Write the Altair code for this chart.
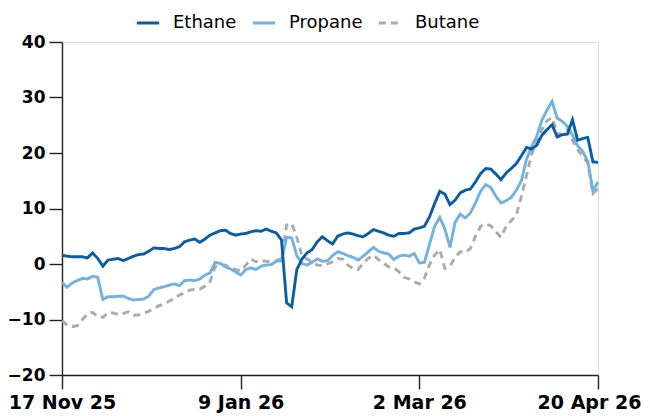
import json
import altair as alt
import pandas as pd

tick_index = [0, 35, 70, 105]
tick_labels = ["17 Nov 25", "9 Jan 26", "2 Mar 26", "20 Apr 26"]
y_ticks = [-20, -10, 0, 10, 20, 30, 40]
series_names = ["Ethane", "Propane", "Butane"]
series_colors = ["#0a5da3", "#72b1e1", "#ababab"]
series_dash = [[1, 0], [1, 0], [7, 5]]

ethane = [1.6, 1.4, 1.3, 1.3, 1.3, 1.1, 2.0, 1.0, -0.4, 0.7,
          0.85, 1.0, 0.6, 1.0, 1.4, 1.7, 1.8, 2.3, 2.9, 2.8,
          2.8, 2.6, 2.8, 3.1, 4.0, 4.3, 4.5, 3.9, 4.5, 5.2,
          5.6, 6.0, 6.1, 5.5, 5.2, 5.4, 5.5, 5.8, 6.0, 5.9,
          6.3, 5.9, 5.6, 4.3, -7.0, -7.7, -1.0, 0.9, 2.0, 2.6,
          4.0, 4.9, 4.2, 3.6, 5.0, 5.4, 5.6, 5.4, 5.1, 4.9,
          5.5, 6.2, 5.9, 5.6, 5.2, 5.0, 5.5, 5.5, 5.6, 6.3,
          6.5, 6.8, 8.5, 10.9, 13.1, 12.6, 10.7, 11.5, 12.8, 13.3,
          13.5, 14.8, 16.3, 17.2, 17.1, 16.2, 15.2, 16.4, 17.2, 18.1,
          19.5, 21.0, 20.7, 21.4, 23.2, 24.2, 25.1, 22.9, 23.3, 23.4,
          26.0, 22.3, 22.6, 22.8, 18.4, 18.3]
propane = [-3.3, -4.2, -3.4, -3.0, -2.6, -2.7, -2.2, -2.4, -6.4, -5.9,
           -5.9, -5.8, -5.8, -6.2, -6.5, -6.4, -6.3, -5.8, -4.6, -4.3,
           -4.1, -3.8, -3.6, -3.9, -3.0, -2.9, -3.0, -2.7, -2.0, -1.6,
           0.3, 0.1, -0.5, -0.9, -1.4, -2.0, -1.0, -0.7, -1.0, -0.4,
           -0.2, -0.1, 0.5, 0.6, 4.8, 4.7, 1.5, 0.1, -0.2, 0.3,
           0.9, 0.5, 0.6, 1.5, 2.2, 1.9, 1.5, 1.2, 0.7, 1.4,
           2.2, 3.0, 2.3, 2.0, 1.8, 0.8, 1.4, 1.6, 1.4, 1.9,
           0.2, 0.3, 3.6, 6.8, 8.4, 6.3, 3.0, 7.5, 9.0, 8.3,
           9.2, 11.0, 13.1, 14.3, 13.8, 12.2, 11.0, 11.4, 12.0, 13.3,
           15.0, 18.9, 21.2, 23.0, 25.9, 27.7, 29.3, 26.3, 25.7, 24.8,
           23.2, 21.3, 20.3, 18.5, 13.2, 14.8]
butane = [-10.2, -11.0, -11.3, -11.1, -10.0, -9.0, -8.7, -9.5, -9.6, -8.8,
          -8.8, -9.1, -8.9, -8.6, -9.2, -9.2, -8.9, -8.5, -8.0, -7.5,
          -7.2, -6.7, -6.1, -5.6, -5.2, -4.7, -4.6, -4.5, -4.0, -3.2,
          -0.5, -0.1, -0.2, -0.6, -1.0, -1.2, -0.2, 0.9, 0.4, 0.6,
          0.5, 0.4, 0.6, 1.0, 7.0, 7.3, 4.8, 1.5, 0.9, 0.4,
          -0.2, -0.3, 0.0, 0.4, 1.0, 0.9, -0.2, -0.8, -1.0, 0.1,
          1.0, 1.6, 0.8, 0.1, -0.5, -0.7, -1.4, -2.4, -2.7, -3.2,
          -3.6, -2.5, -0.1, 1.6, 2.6, -0.8, -0.4, 1.2, 2.2, 2.1,
          2.8, 5.0, 6.8, 7.2, 6.9, 5.8, 4.8, 6.8, 7.8, 8.8,
          12.2, 16.0, 19.8, 22.0, 24.2, 25.8, 26.4, 23.6, 23.3, 24.3,
          22.3, 20.6, 19.4, 18.2, 12.7, 13.6]

rows = []
for name, vals in zip(series_names, [ethane, propane, butane]):
    for i, v in enumerate(vals):
        rows.append({"i": i, "value": v, "series": name})
df = pd.DataFrame(rows)

label_expr = f"{json.dumps(tick_labels)}[indexof({json.dumps(tick_index)}, datum.value)]"

FONT = "DejaVu Sans"

x_enc = alt.X(
    "i:Q",
    scale=alt.Scale(domain=[0, len(ethane) - 1], nice=False, zero=False),
    axis=alt.Axis(values=tick_index, labelExpr=label_expr, title=None, grid=False,
                  tickSize=14, labelPadding=4, labelFontSize=19, labelFontWeight="bold",
                  labelFont=FONT, labelColor="#000000", domainColor="#222222",
                  tickColor="#222222", domainWidth=1.4, tickWidth=1.4,
                  labelOverlap=False, labelFlush=False,
                  labelOffset={"condition": {"test": f"datum.value == {tick_index[-1]}", "value": -9},
                               "value": 0}),
)
y_enc = alt.Y(
    "value:Q",
    scale=alt.Scale(domain=[-20, 40], nice=False, zero=False),
    axis=alt.Axis(values=y_ticks, title=None, grid=False, tickSize=13, labelPadding=4,
                  labelFontSize=17, labelFontWeight="bold", labelFont=FONT,
                  labelColor="#000000", domainColor="#222222", tickColor="#222222",
                  domainWidth=1.4, tickWidth=1.4),
)
legend = alt.Legend(
    title=None, orient="none", direction="horizontal", legendX=73, legendY=-32,
    symbolType="stroke", symbolSize=500, symbolStrokeWidth=3,
    labelFont=FONT, labelFontSize=18, labelColor="#000000",
    labelOffset=12, columnPadding=9,
)
color_enc = alt.Color("series:N", scale=alt.Scale(domain=series_names, range=series_colors),
                      legend=legend)
dash_enc = alt.StrokeDash("series:N", scale=alt.Scale(domain=series_names, range=series_dash),
                          legend=legend)

layers = []
for name in reversed(series_names):
    layers.append(
        alt.Chart(df).transform_filter(alt.datum.series == name)
        .mark_line(strokeWidth=2.9)
        .encode(x=x_enc, y=y_enc, color=color_enc, strokeDash=dash_enc)
    )

chart = (
    alt.layer(*layers)
    .properties(width=536, height=333,
                autosize=alt.AutoSizeParams(type="none"),
                padding={"left": 54, "top": 34, "right": 44, "bottom": 40})
    .configure_view(strokeWidth=0, stroke="transparent", strokeOpacity=0)
    .configure(font=FONT)
)

chart.save("out.html", embed_options={"renderer": "svg", "actions": False})
